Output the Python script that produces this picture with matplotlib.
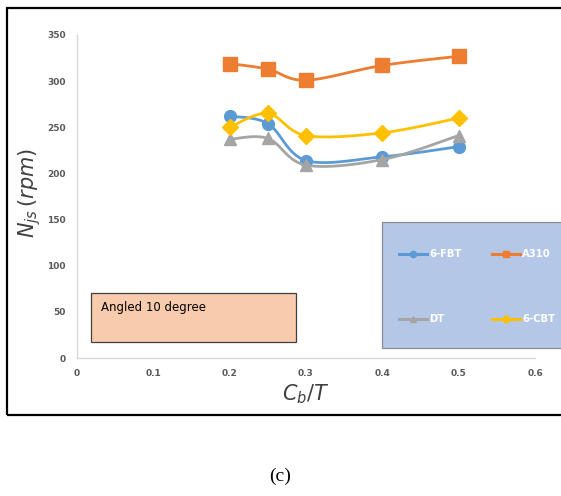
import numpy as np
import matplotlib
matplotlib.use("Agg")
import matplotlib.pyplot as plt
from matplotlib.patches import Rectangle
from matplotlib.lines import Line2D

# ---- data ----
x_vals = [0.2, 0.25, 0.3, 0.4, 0.5]
fbt6 = [262, 254, 214, 218, 229]
a310 = [319, 313, 301, 317, 327]
dt = [237, 238, 209, 215, 241]
cbt6 = [250, 265, 241, 244, 260]
series_names = ["6-FBT", "A310", "DT", "6-CBT"]
x_ticks = [0, 0.1, 0.2, 0.3, 0.4, 0.5, 0.6]
x_tick_labels = ["0", "0.1", "0.2", "0.3", "0.4", "0.5", "0.6"]
y_ticks = [0, 50, 100, 150, 200, 250, 300, 350]
note_text = "Angled 10 degree"
panel_label = "(c)"

colors = ["#5B9BD5", "#ED7D31", "#A5A5A5", "#FFC000"]
markers = ["o", "s", "^", "D"]
msizes = [8.5, 9.5, 9, 8]


def smooth(xs, ys, n=30):
    """Excel-like smoothed line (Catmull-Rom via cubic Bezier)."""
    P = np.column_stack([xs, ys]).astype(float)
    P = np.vstack([P[0], P, P[-1]])
    out = []
    t = np.linspace(0, 1, n)[:, None]
    for i in range(1, len(P) - 2):
        p0, p1, p2, p3 = P[i - 1], P[i], P[i + 1], P[i + 2]
        c1 = p1 + (p2 - p0) / 6.0
        c2 = p2 - (p3 - p1) / 6.0
        seg = ((1 - t) ** 3) * p1 + 3 * ((1 - t) ** 2) * t * c1 + 3 * (1 - t) * t ** 2 * c2 + t ** 3 * p2
        out.append(seg if i == 1 else seg[1:])
    out = np.vstack(out)
    return out[:, 0], out[:, 1]


W, H = 561, 496
fig = plt.figure(figsize=(W / 100, H / 100), dpi=100)

# outer frame
fig.patches.append(Rectangle((7 / W, 1 - 415 / H), 1.0, (415 - 8) / H, transform=fig.transFigure,
                             facecolor="none", edgecolor="black", linewidth=1.6, zorder=0))

ax = fig.add_axes([77 / W, 1 - 358 / H, (535 - 77) / W, (358 - 35) / H])
ax.set_facecolor("none")
ax.set_xlim(0, 0.6)
ax.set_ylim(0, 350)
ax.set_xticks(x_ticks)
ax.set_xticklabels(x_tick_labels)
ax.set_yticks(y_ticks)
for s in ["top", "right"]:
    ax.spines[s].set_visible(False)
for s in ["left", "bottom"]:
    ax.spines[s].set_color("#D9D9D9")
    ax.spines[s].set_linewidth(1.0)
ax.tick_params(length=0, labelsize=6.5, labelcolor="#595959", pad=8)
for lbl in ax.get_xticklabels() + ax.get_yticklabels():
    lbl.set_fontweight("bold")

all_series = [fbt6, a310, dt, cbt6]
for ys, c, m, ms in zip(all_series, colors, markers, msizes):
    sx, sy = smooth(x_vals, ys)
    ax.plot(sx, sy, color=c, linewidth=2.0, solid_capstyle="round", clip_on=False)
    ax.plot(x_vals, ys, linestyle="none", marker=m, markersize=ms, color=c, clip_on=False)

ax.set_ylabel(r"$N_{js}\,(rpm)$", fontsize=15, color="#404040")
ax.yaxis.set_label_coords(-0.075, 0.512)
ax.set_xlabel(r"$C_b/T$", fontsize=15, color="#404040")
ax.xaxis.set_label_coords(0.50, -0.075)

# note box
fig.patches.append(Rectangle((91 / W, 1 - 342 / H), (296 - 91) / W, (342 - 293) / H, transform=fig.transFigure,
                             facecolor="#F8CBAD", edgecolor="#404040", linewidth=0.9, zorder=3))
fig.text(101 / W, 1 - 308 / H, note_text, fontsize=8.5, color="black", va="center", ha="left", zorder=4)

# legend box
fig.patches.append(Rectangle((382 / W, 1 - 348 / H), 1.0, (348 - 222) / H, transform=fig.transFigure,
                             facecolor="#B4C7E7", edgecolor="#8C8C8C", linewidth=0.9, zorder=3))
leg_pos = [(399, 254), (492, 254), (399, 319), (492, 319)]
for name, c, m, (px, py) in zip(series_names, colors, markers, leg_pos):
    fig.add_artist(Line2D([px / W, (px + 28) / W], [1 - py / H, 1 - py / H], transform=fig.transFigure,
                          color=c, linewidth=2.2, zorder=5))
    fig.add_artist(Line2D([(px + 14) / W], [1 - py / H], transform=fig.transFigure, color=c,
                          marker=m, markersize=4.5, zorder=6))
    fig.text((px + 30) / W, 1 - py / H, name, fontsize=7.2, color="white", va="center", ha="left",
             fontweight="bold", zorder=6)

fig.text(280 / W, 1 - 476 / H, panel_label, fontsize=14, family="Liberation Serif", ha="center", va="center")

fig.savefig("out.png", dpi=100)
